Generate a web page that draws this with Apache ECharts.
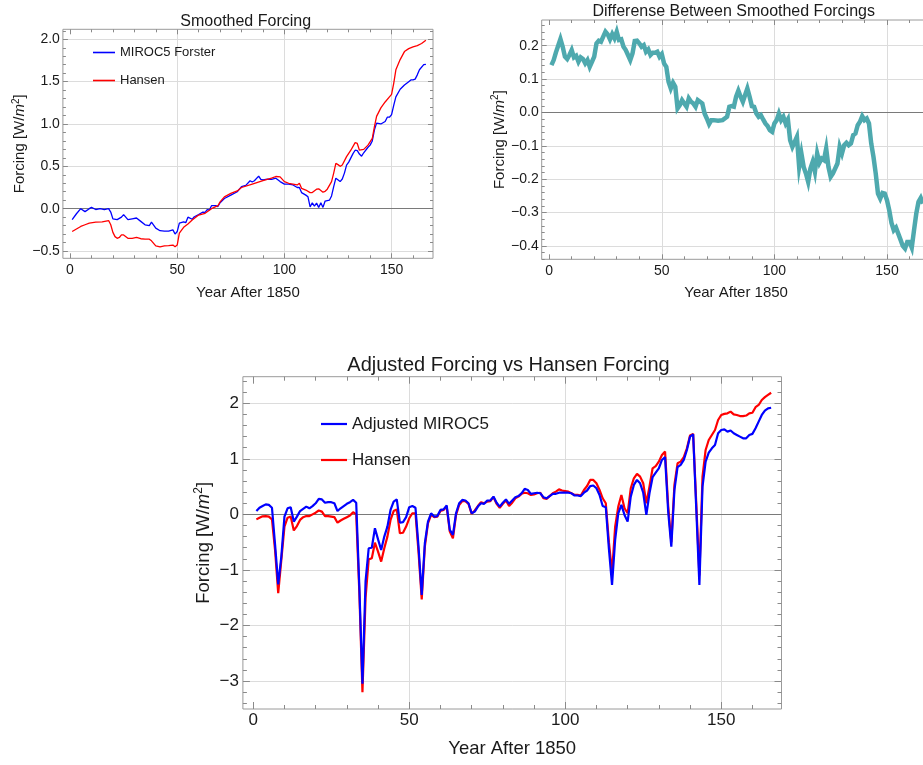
<!DOCTYPE html>
<html><head><meta charset="utf-8">
<script src="https://cdn.jsdelivr.net/npm/echarts@6/dist/echarts.min.js"></script>
<style>html,body{margin:0;padding:0;background:#fff}#c{width:923px;height:765px}</style>
</head><body><div id="c"></div>
<script>
// ---------------- DATA ----------------
// Panel 1: Smoothed Forcing  [year after 1850, W/m2]
const mirocSmoothed = [[1,-0.13],[3,-0.06],[5,0],[7,-0.035],[9,0],[10,0.015],[12,-0.01],[14,0],[16,-0.01],[18,0],[19,-0.04],[20,-0.12],[22,-0.13],[24,-0.1],[25,-0.07],[27,-0.13],[29,-0.12],[31,-0.11],[33,-0.15],[35,-0.19],[37,-0.2],[38,-0.16],[40,-0.23],[42,-0.26],[44,-0.265],[46,-0.265],[48,-0.25],[49,-0.3],[50,-0.27],[51,-0.17],[53,-0.155],[54,-0.165],[55,-0.1],[57,-0.125],[58,-0.095],[60,-0.07],[62,-0.04],[63,-0.045],[64,-0.01],[65,-0.015],[66,0.035],[68,0.035],[69,0.025],[70,0.07],[72,0.12],[75,0.16],[78,0.2],[80,0.26],[82,0.275],[84,0.33],[85,0.315],[86,0.33],[88,0.385],[89,0.345],[90,0.34],[92,0.35],[94,0.345],[96,0.36],[98,0.32],[100,0.29],[102,0.29],[104,0.28],[106,0.25],[107,0.25],[108,0.19],[110,0.16],[111,0.14],[112,0.02],[113,0.07],[114,0.03],[115,0.065],[116,0.015],[117,0.07],[118,0.015],[119,0.09],[121,0.1],[122,0.15],[123,0.26],[124,0.36],[126,0.32],[127,0.35],[128,0.42],[129,0.515],[130,0.55],[132,0.65],[133,0.69],[134,0.685],[135,0.645],[136,0.62],[137,0.66],[139,0.725],[140,0.75],[141,0.8],[142,0.93],[143,1.01],[145,1.0],[147,1.03],[148,1.08],[149,1.08],[150,1.11],[151,1.22],[152,1.32],[154,1.41],[156,1.46],[158,1.5],[159,1.52],[160,1.52],[161,1.53],[162,1.58],[163,1.64],[165,1.7],[166,1.705]];
const hansenSmoothed = [[1,-0.27],[3,-0.24],[5,-0.21],[7,-0.19],[9,-0.17],[12,-0.16],[15,-0.155],[18,-0.14],[19,-0.19],[20,-0.28],[21,-0.33],[22,-0.35],[23,-0.34],[24,-0.31],[25,-0.31],[27,-0.35],[29,-0.35],[31,-0.34],[33,-0.355],[35,-0.36],[37,-0.36],[38,-0.38],[40,-0.44],[42,-0.45],[44,-0.44],[46,-0.437],[48,-0.43],[49,-0.45],[50,-0.43],[51,-0.29],[53,-0.22],[55,-0.18],[57,-0.135],[60,-0.075],[63,-0.055],[66,0],[69,0.035],[70,0.08],[72,0.14],[75,0.18],[78,0.21],[80,0.25],[85,0.29],[90,0.33],[94,0.36],[96,0.38],[98,0.375],[100,0.32],[102,0.3],[104,0.29],[106,0.28],[107,0.3],[108,0.24],[110,0.22],[112,0.19],[113,0.19],[115,0.23],[116,0.235],[118,0.195],[119,0.205],[120,0.23],[122,0.32],[123,0.42],[124,0.535],[125,0.52],[126,0.5],[127,0.515],[129,0.615],[131,0.69],[133,0.78],[134,0.77],[135,0.69],[137,0.7],[139,0.75],[141,0.83],[142,0.97],[143,1.09],[145,1.19],[147,1.26],[149,1.32],[150,1.35],[151,1.48],[152,1.64],[154,1.76],[156,1.855],[158,1.89],[160,1.91],[162,1.925],[164,1.95],[166,1.99]];

// Panel 2: Differense Between Smoothed Forcings
const smoothedDifference = [[1,0.142],[2,0.157],[3,0.18],[4,0.2],[5,0.22],[6,0.197],[7,0.167],[8,0.16],[9,0.172],[10,0.187],[11,0.165],[12,0.17],[13,0.152],[14,0.165],[15,0.16],[16,0.147],[17,0.157],[18,0.137],[19,0.152],[20,0.167],[21,0.207],[22,0.215],[23,0.212],[24,0.227],[25,0.242],[26,0.234],[27,0.219],[28,0.235],[29,0.222],[30,0.242],[31,0.217],[32,0.219],[33,0.197],[34,0.187],[35,0.172],[36,0.157],[37,0.177],[38,0.214],[39,0.215],[40,0.207],[41,0.197],[42,0.202],[43,0.182],[44,0.189],[45,0.172],[46,0.179],[47,0.179],[48,0.182],[49,0.167],[50,0.175],[51,0.147],[52,0.137],[53,0.092],[54,0.072],[55,0.089],[56,0.077],[57,0.012],[58,0.022],[59,0.037],[60,0.027],[61,0.017],[62,0.042],[63,0.032],[64,0.027],[65,0.017],[66,0.037],[67,0.032],[68,0.027],[69,-0.003],[70,-0.018],[71,-0.035],[72,-0.023],[73,-0.023],[75,-0.025],[77,-0.023],[79,-0.013],[80,0.017],[81,0.019],[82,0.017],[83,0.047],[84,0.065],[85,0.047],[86,0.032],[87,0.052],[88,0.072],[89,0.047],[90,0.019],[91,0.017],[92,-0.003],[93,-0.013],[94,-0.008],[95,-0.021],[96,-0.033],[97,-0.041],[98,-0.053],[99,-0.058],[100,-0.033],[101,-0.023],[102,-0.003],[103,-0.023],[104,-0.013],[105,-0.033],[106,-0.021],[107,-0.083],[108,-0.103],[109,-0.088],[110,-0.073],[111,-0.163],[112,-0.123],[113,-0.163],[114,-0.183],[115,-0.208],[116,-0.168],[117,-0.148],[118,-0.178],[119,-0.123],[120,-0.151],[121,-0.138],[122,-0.143],[123,-0.108],[124,-0.163],[125,-0.193],[126,-0.183],[128,-0.153],[129,-0.103],[130,-0.123],[131,-0.098],[132,-0.091],[133,-0.098],[134,-0.093],[135,-0.068],[136,-0.063],[137,-0.038],[138,-0.028],[139,-0.011],[140,-0.023],[141,-0.018],[142,-0.033],[143,-0.093],[144,-0.133],[145,-0.183],[146,-0.243],[147,-0.258],[148,-0.241],[149,-0.243],[150,-0.263],[151,-0.293],[152,-0.331],[153,-0.353],[154,-0.345],[155,-0.363],[156,-0.381],[157,-0.4],[158,-0.408],[159,-0.388],[160,-0.388],[161,-0.405],[162,-0.353],[163,-0.303],[164,-0.268],[165,-0.256],[166,-0.273]];

// Panel 3: Adjusted Forcing vs Hansen Forcing (years 1..166)
const years3 = Array.from({length:166},(_,i)=>i+1);
const adjustedMiroc5 = [0.06,0.12,0.15,0.18,0.17,0.12,-0.55,-1.26,-0.76,-0.04,0.11,0.13,-0.13,-0.04,0.06,0.10,0.14,0.11,0.15,0.20,0.28,0.27,0.21,0.22,0.22,0.20,0.06,0.11,0.15,0.19,0.22,0.26,0.21,-1.3,-3.05,-1.2,-0.61,-0.60,-0.25,-0.45,-0.64,-0.40,-0.22,0.08,0.23,0.27,-0.15,-0.14,-0.05,0.13,0.15,0.12,-0.6,-1.45,-0.52,-0.13,0.02,-0.04,-0.03,0.08,0.09,0.16,-0.28,-0.37,0.02,0.20,0.26,0.25,0.20,0.02,0.05,0.14,0.20,0.19,0.25,0.25,0.32,0.21,0.14,0.21,0.27,0.19,0.25,0.31,0.33,0.38,0.46,0.44,0.37,0.38,0.39,0.38,0.31,0.29,0.33,0.37,0.37,0.39,0.39,0.39,0.39,0.38,0.34,0.34,0.33,0.39,0.43,0.51,0.52,0.47,0.35,0.15,0.13,-0.62,-1.27,-0.46,0.02,0.17,-0.01,-0.13,0.32,0.53,0.62,0.56,0.39,-0.01,0.38,0.67,0.75,0.83,0.98,1.03,0.05,-0.58,0.44,0.85,0.89,0.98,1.16,1.40,1.44,0.1,-1.27,0.5,0.95,1.11,1.19,1.25,1.46,1.52,1.53,1.49,1.51,1.46,1.43,1.40,1.37,1.37,1.43,1.45,1.55,1.67,1.79,1.87,1.91,1.92];
const hansenForcing = [-0.09,-0.06,-0.035,-0.03,-0.04,-0.09,-0.65,-1.42,-0.82,-0.22,-0.06,-0.04,-0.29,-0.21,-0.10,-0.05,-0.03,-0.03,0.0,0.03,0.07,0.05,-0.03,-0.03,-0.04,-0.05,-0.15,-0.11,-0.08,-0.05,-0.02,0.04,0.0,-1.4,-3.2,-1.5,-0.81,-0.79,-0.51,-0.67,-0.85,-0.61,-0.40,-0.10,0.06,0.09,-0.34,-0.33,-0.22,-0.07,0.02,0.02,-0.7,-1.53,-0.58,-0.16,-0.01,-0.05,-0.04,0.06,0.08,0.14,-0.31,-0.43,-0.01,0.17,0.24,0.24,0.19,0.01,0.07,0.15,0.22,0.20,0.23,0.24,0.31,0.19,0.12,0.19,0.25,0.15,0.21,0.29,0.32,0.37,0.39,0.38,0.35,0.36,0.38,0.39,0.29,0.28,0.33,0.38,0.41,0.45,0.43,0.42,0.41,0.38,0.35,0.35,0.34,0.44,0.51,0.62,0.62,0.56,0.44,0.29,0.20,-0.5,-1.05,-0.22,0.14,0.35,0.11,0.02,0.47,0.65,0.73,0.68,0.56,0.2,0.5,0.83,0.87,0.95,1.07,1.13,0.15,-0.5,0.53,0.92,0.95,1.03,1.19,1.42,1.45,0.2,-1.1,0.68,1.16,1.34,1.43,1.52,1.70,1.79,1.81,1.82,1.85,1.80,1.79,1.77,1.77,1.78,1.82,1.83,1.93,1.97,2.06,2.11,2.15,2.19];

// Axis ranges and tick labels
const xRange = [-3.32, 169.32];
const xTicks = [0, 50, 100, 150];
const xGrid = [50, 100, 150];
const yRange1 = [-0.586, 2.118];
const yTicks1 = [-0.5, 0, 0.5, 1, 1.5, 2];
const yRange2 = [-0.44, 0.277];
const yTicks2 = [-0.4, -0.3, -0.2, -0.1, 0, 0.1, 0.2];
const yRange3 = [-3.504, 2.479];
const yTicks3 = [-3, -2, -1, 0, 1, 2];

// ---------------- STYLE / LAYOUT ----------------
const FONT = '"Liberation Sans", Arial, Helvetica, sans-serif';
const FRAME = '#9a9a9a', TICK = '#8a8a8a', GRIDC = '#dcdcdc', ZERO = '#7a7a7a';
const GRIDS = [
  {left: 62.9, top: 29.3, width: 370.1, height: 229},
  {left: 541.7, top: 20, width: 388.8, height: 239.3},
  {left: 242.9, top: 376.7, width: 538.6, height: 332.3}
];

function minorsOf(lo, hi, step, majorStep) {
  const out = [];
  const n0 = Math.ceil(lo / step - 1e-9), n1 = Math.floor(hi / step + 1e-9);
  for (let k = n0; k <= n1; k++) {
    const v = +(k * step).toFixed(6);
    const r = v / majorStep;
    if (Math.abs(r - Math.round(r)) > 1e-6) out.push(v);
  }
  return out;
}
const fmt = d => v => (v < 0 ? '\u2212' : '') + Math.abs(v).toFixed(d);

const xAxis = [], yAxis = [];
function addAxes(list, gi, pos, opp, range, majors, minors, gridVals, labelCfg, nameCfg, tl) {
  const base = {type: 'value', gridIndex: gi, min: range[0], max: range[1], scale: true,
    axisLine: {show: false, onZero: false}, splitLine: {show: false}, axisLabel: {show: false}, axisTick: {show: false}};
  const idx = list.length;
  const tickMaj = (cv) => ({show: true, inside: true, length: tl[0], customValues: cv, lineStyle: {color: TICK, width: 1}});
  const tickMin = (cv) => ({show: true, inside: true, length: tl[1], customValues: cv, lineStyle: {color: TICK, width: 1}});
  list.push(Object.assign({}, base, {position: pos, axisLabel: Object.assign({show: true, customValues: majors, color: '#1a1a1a', fontFamily: FONT}, labelCfg), axisTick: tickMaj(majors)}, nameCfg));
  list.push(Object.assign({}, base, {position: pos, axisTick: tickMin(minors)}));
  list.push(Object.assign({}, base, {position: pos, axisTick: {show: false, customValues: gridVals}, splitLine: {show: true, lineStyle: {color: GRIDC, width: 1}}}));
  list.push(Object.assign({}, base, {position: opp, axisTick: tickMaj(majors)}));
  list.push(Object.assign({}, base, {position: opp, axisTick: tickMin(minors)}));
  return idx;
}
function yName(size, sup) {
  return {
    name: '{n|Forcing [W/}{i|m}{s|2}{n|]}', nameLocation: 'middle', nameRotate: 90,
    nameTextStyle: {rich: {
      n: {fontSize: size, fontFamily: FONT, color: '#1a1a1a'},
      i: {fontSize: size, fontFamily: FONT, fontStyle: 'italic', color: '#1a1a1a'},
      s: {fontSize: sup, fontFamily: FONT, color: '#1a1a1a', padding: [0, 0, Math.round(size * 0.55), 0]}
    }}
  };
}
function xName(size, gap) {
  return {name: 'Year After 1850', nameLocation: 'middle', nameGap: gap,
    nameTextStyle: {fontSize: size, fontFamily: FONT, color: '#1a1a1a'}};
}

// Panel 1
const x1 = addAxes(xAxis, 0, 'bottom', 'top', xRange, xTicks, minorsOf(xRange[0], xRange[1], 10, 50), xGrid,
  {fontSize: 14, margin: 5, formatter: fmt(0)}, xName(15, 27), [5, 3]);
const y1 = addAxes(yAxis, 0, 'left', 'right', yRange1, yTicks1, minorsOf(yRange1[0], yRange1[1], 0.1, 0.5), yTicks1,
  {fontSize: 14, margin: 3, formatter: fmt(1)}, Object.assign(yName(15, 10), {nameGap: 34}), [5, 3]);
// Panel 2
const x2 = addAxes(xAxis, 1, 'bottom', 'top', xRange, xTicks, minorsOf(xRange[0], xRange[1], 10, 50), xGrid,
  {fontSize: 14, margin: 5, formatter: fmt(0)}, xName(15, 26), [5, 3]);
const y2 = addAxes(yAxis, 1, 'left', 'right', yRange2, yTicks2, minorsOf(yRange2[0], yRange2[1], 0.02, 0.1), yTicks2,
  {fontSize: 14, margin: 3, formatter: fmt(1)}, Object.assign(yName(15, 10), {nameGap: 33}), [5, 3]);
// Panel 3
const x3 = addAxes(xAxis, 2, 'bottom', 'top', xRange, xTicks, minorsOf(xRange[0], xRange[1], 10, 50), xGrid,
  {fontSize: 17, margin: 3, formatter: fmt(0)}, xName(18.5, 30), [7, 4]);
const y3 = addAxes(yAxis, 2, 'left', 'right', yRange3, yTicks3, minorsOf(yRange3[0], yRange3[1], 0.2, 1), yTicks3,
  {fontSize: 17, margin: 4, formatter: fmt(0)}, Object.assign(yName(18.5, 12), {nameGap: 28, nameMoveOverlap: false}), [7, 4]);

const zeroLine = {silent: true, symbol: ['none', 'none'], z: 1, label: {show: false},
  lineStyle: {color: ZERO, width: 1, type: 'solid'}, emphasis: {disabled: true}, data: [{yAxis: 0}]};

function measure(text, size) {
  const c = document.createElement('canvas').getContext('2d');
  c.font = size + 'px ' + FONT;
  return c.measureText(text).width;
}
function title(text, cx, top, size) {
  return {text: text, left: cx - measure(text, size) / 2, top: top, padding: 0,
    textStyle: {fontSize: size, fontWeight: 'normal', fontFamily: FONT, color: '#1a1a1a'}};
}

const option = {
  animation: false,
  backgroundColor: '#fff',
  textStyle: {fontFamily: FONT},
  title: [
    title('Smoothed Forcing', 245.7, 14, 16),
    title('Differense Between Smoothed Forcings', 733.7, 4, 16),
    title('Adjusted Forcing vs Hansen Forcing', 508.5, 355, 20)
  ],
  grid: GRIDS.map(g => Object.assign({show: true, borderColor: FRAME, borderWidth: 1, backgroundColor: 'transparent',
    containLabel: false, outerBoundsMode: 'none'}, g)),
  legend: [
    {data: ['MIROC5 Forster', 'Hansen'], orient: 'vertical', left: 93, top: 45, icon: 'rect',
      itemWidth: 22, itemHeight: 1.6, itemGap: 13, selectedMode: false, padding: 0,
      textStyle: {fontSize: 13, fontFamily: FONT, color: '#1a1a1a', lineHeight: 15}},
    {data: ['Adjusted MIROC5', 'Hansen'], orient: 'vertical', left: 321, top: 414, icon: 'rect',
      itemWidth: 26, itemHeight: 2.2, itemGap: 16, selectedMode: false, padding: 0,
      textStyle: {fontSize: 17, fontFamily: FONT, color: '#1a1a1a', lineHeight: 20}}
  ],
  xAxis: xAxis,
  yAxis: yAxis,
  series: [
    {type: 'line', name: 'MIROC5 Forster', xAxisIndex: x1, yAxisIndex: y1, data: mirocSmoothed,
      symbol: 'none', color: '#0000ff', lineStyle: {width: 1.3, color: '#0000ff'}, z: 3, markLine: zeroLine},
    {type: 'line', name: 'Hansen', xAxisIndex: x1, yAxisIndex: y1, data: hansenSmoothed,
      symbol: 'none', color: '#ff0000', lineStyle: {width: 1.3, color: '#ff0000'}, z: 4},
    {type: 'line', name: 'Difference', xAxisIndex: x2, yAxisIndex: y2, data: smoothedDifference,
      symbol: 'none', color: '#4ea9ae', lineStyle: {width: 4.5, color: '#4ea9ae', join: 'miter'}, z: 3, markLine: zeroLine},
    {type: 'line', name: 'Hansen', xAxisIndex: x3, yAxisIndex: y3, data: years3.map((y, i) => [y, hansenForcing[i]]),
      symbol: 'none', color: '#ff0000', lineStyle: {width: 2.2, color: '#ff0000'}, z: 3, markLine: zeroLine},
    {type: 'line', name: 'Adjusted MIROC5', xAxisIndex: x3, yAxisIndex: y3, data: years3.map((y, i) => [y, adjustedMiroc5[i]]),
      symbol: 'none', color: '#0000ff', lineStyle: {width: 2.2, color: '#0000ff'}, z: 4}
  ]
};
const chart = echarts.init(document.getElementById('c'), null, {renderer: 'canvas'});
chart.setOption(option);
</script>
</body></html>
